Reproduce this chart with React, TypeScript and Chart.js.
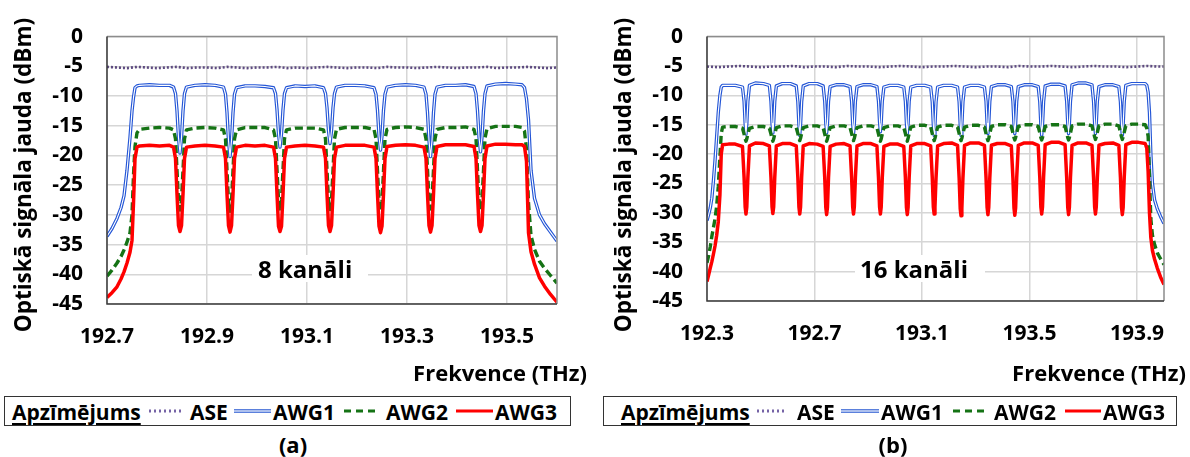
import React, { useEffect, useRef } from "react";
import { Chart, registerables } from "chart.js";

Chart.register(...registerables);

const FONT = "'Open Sans', 'DejaVu Sans', sans-serif";

// ---------- Panel (a): 8 channels ----------
const xTicksA = [192.7, 192.9, 193.1, 193.3, 193.5];

const aseFreqA = [
  192.70, 192.72, 192.74, 192.76, 192.78, 192.80, 192.82, 192.84, 192.86, 192.88,
  192.90, 192.92, 192.94, 192.96, 192.98, 193.00, 193.02, 193.04, 193.06, 193.08,
  193.10, 193.12, 193.14, 193.16, 193.18, 193.20, 193.22, 193.24, 193.26, 193.28,
  193.30, 193.32, 193.34, 193.36, 193.38, 193.40, 193.42, 193.44, 193.46, 193.48,
  193.50, 193.52, 193.54, 193.56, 193.58, 193.60,
];
const aseA = [
  -5.1, -5.2, -5.3, -5.1, -5.2, -5.3, -5.2, -5.1, -5.3, -5.2,
  -5.2, -5.3, -5.1, -5.2, -5.3, -5.2, -5.2, -5.1, -5.3, -5.2,
  -5.3, -5.2, -5.1, -5.2, -5.3, -5.2, -5.2, -5.3, -5.1, -5.2,
  -5.2, -5.3, -5.2, -5.1, -5.2, -5.3, -5.2, -5.2, -5.1, -5.3,
  -5.2, -5.2, -5.1, -5.2, -5.3, -5.2,
];

const freqA = [
  192.700, 192.710, 192.720, 192.728, 192.734, 192.740, 192.746, 192.750, 192.753, 192.756, 192.760, 192.765, 192.785, 192.805, 192.825,
  192.833, 192.837, 192.840, 192.843, 192.846, 192.849, 192.852, 192.855, 192.859, 192.876, 192.896, 192.916,
  192.933, 192.937, 192.940, 192.943, 192.946, 192.949, 192.952, 192.955, 192.959, 192.976, 192.996, 193.016,
  193.033, 193.037, 193.040, 193.043, 193.046, 193.049, 193.052, 193.055, 193.059, 193.076, 193.096, 193.116,
  193.133, 193.137, 193.140, 193.143, 193.146, 193.149, 193.152, 193.155, 193.159, 193.176, 193.196, 193.216,
  193.234, 193.238, 193.241, 193.244, 193.247, 193.250, 193.253, 193.256, 193.260, 193.277, 193.297, 193.317,
  193.334, 193.338, 193.341, 193.344, 193.347, 193.350, 193.353, 193.356, 193.360, 193.377, 193.397, 193.417,
  193.434, 193.438, 193.441, 193.444, 193.447, 193.450, 193.453, 193.456, 193.460, 193.477, 193.497, 193.517,
  193.530, 193.535, 193.539, 193.543, 193.548, 193.555, 193.565, 193.575, 193.587, 193.600,
];
const awg1A = [
  -33.6, -32.3, -30.6, -28.8, -26.8, -22.5, -17.0, -12.5, -10.2, -8.6, -8.3, -8.2, -8.1, -8.2, -8.2,
  -8.5, -9.6, -12.5, -17.0, -19.6, -17.0, -12.5, -9.6, -8.5, -8.2, -8.1, -8.2,
  -8.5, -9.7, -12.8, -17.5, -20.2, -17.5, -12.8, -9.7, -8.6, -8.3, -8.3, -8.4,
  -8.6, -9.6, -12.3, -16.3, -18.6, -16.3, -12.3, -9.6, -8.6, -8.3, -8.4, -8.3,
  -8.6, -9.6, -12.0, -15.8, -18.0, -15.8, -12.0, -9.6, -8.5, -8.2, -8.2, -8.3,
  -8.6, -9.7, -12.4, -16.7, -19.1, -16.7, -12.4, -9.7, -8.5, -8.2, -8.1, -8.2,
  -8.5, -9.7, -12.8, -17.5, -20.2, -17.5, -12.8, -9.7, -8.5, -8.2, -8.2, -8.1,
  -8.4, -9.6, -12.5, -16.9, -19.4, -16.9, -12.5, -9.6, -8.3, -8.0, -7.9, -8.0,
  -8.1, -8.6, -10.5, -14.0, -22.5, -27.2, -30.0, -31.5, -32.9, -34.4,
];
const awg2A = [
  -40.3, -39.3, -38.1, -37.0, -35.9, -34.6, -33.0, -30.0, -23.3, -18.5, -16.2, -15.6, -15.4, -15.3, -15.4,
  -15.7, -17.2, -22.5, -27.5, -29.2, -27.5, -22.5, -17.2, -15.7, -15.4, -15.3, -15.4,
  -15.7, -17.2, -22.5, -27.8, -29.4, -27.8, -22.5, -17.2, -15.7, -15.3, -15.3, -15.3,
  -15.7, -17.2, -22.4, -27.4, -29.0, -27.4, -22.4, -17.2, -15.7, -15.4, -15.4, -15.4,
  -15.7, -17.2, -22.5, -27.5, -29.1, -27.5, -22.5, -17.2, -15.6, -15.3, -15.3, -15.3,
  -15.6, -17.2, -22.6, -27.7, -29.3, -27.7, -22.6, -17.2, -15.6, -15.3, -15.2, -15.3,
  -15.6, -17.2, -22.4, -27.4, -29.0, -27.4, -22.4, -17.2, -15.6, -15.3, -15.3, -15.2,
  -15.6, -17.1, -22.5, -27.6, -29.2, -27.6, -22.5, -17.1, -15.5, -15.1, -15.1, -15.1,
  -15.3, -15.9, -19.0, -28.0, -33.5, -35.8, -37.8, -39.0, -40.2, -41.5,
];
const awg3A = [
  -43.9, -43.1, -42.1, -40.8, -39.6, -38.1, -36.3, -34.3, -28.0, -20.5, -18.6, -18.4, -18.3, -18.4, -18.3,
  -18.6, -20.5, -26.5, -31.8, -32.8, -31.8, -26.5, -20.5, -18.6, -18.4, -18.3, -18.4,
  -18.6, -20.5, -26.5, -31.8, -32.9, -31.8, -26.5, -20.5, -18.6, -18.3, -18.4, -18.3,
  -18.6, -20.5, -26.5, -31.9, -32.8, -31.9, -26.5, -20.5, -18.6, -18.4, -18.3, -18.4,
  -18.6, -20.5, -26.5, -31.8, -32.8, -31.8, -26.5, -20.5, -18.6, -18.3, -18.3, -18.3,
  -18.6, -20.5, -26.5, -31.9, -33.0, -31.9, -26.5, -20.5, -18.5, -18.3, -18.2, -18.3,
  -18.6, -20.5, -26.5, -31.8, -32.9, -31.8, -26.5, -20.5, -18.5, -18.2, -18.2, -18.2,
  -18.5, -20.5, -26.5, -31.8, -32.8, -31.8, -26.5, -20.5, -18.4, -18.1, -18.1, -18.2,
  -18.2, -18.5, -21.0, -33.0, -36.2, -38.3, -40.6, -42.0, -43.4, -44.7,
];

// ---------- Panel (b): 16 channels ----------
const xTicksB = [192.3, 192.7, 193.1, 193.5, 193.9];

const aseFreqB = [
  192.30, 192.34, 192.38, 192.42, 192.46, 192.50, 192.54, 192.58, 192.62, 192.66,
  192.70, 192.74, 192.78, 192.82, 192.86, 192.90, 192.94, 192.98, 193.02, 193.06,
  193.10, 193.14, 193.18, 193.22, 193.26, 193.30, 193.34, 193.38, 193.42, 193.46,
  193.50, 193.54, 193.58, 193.62, 193.66, 193.70, 193.74, 193.78, 193.82, 193.86,
  193.90, 193.94, 193.98, 194.00,
];
const aseB = [
  -5.1, -5.2, -5.1, -5.0, -5.1, -5.2, -5.1, -5.1, -5.0, -5.2,
  -5.1, -5.1, -5.2, -5.0, -5.1, -5.1, -5.2, -5.1, -5.0, -5.1,
  -5.2, -5.1, -5.1, -5.0, -5.1, -5.2, -5.1, -5.1, -5.2, -5.0,
  -5.1, -5.1, -5.0, -5.1, -5.2, -5.1, -5.0, -5.1, -5.1, -5.2,
  -5.1, -5.0, -5.1, -5.1,
];

const freqB = [
  192.300, 192.306, 192.312, 192.318, 192.324, 192.330, 192.336, 192.342, 192.348, 192.353, 192.358, 192.380, 192.405,
  192.432, 192.438, 192.442, 192.445, 192.448, 192.452, 192.458, 192.480, 192.510,
  192.532, 192.538, 192.542, 192.545, 192.548, 192.552, 192.558, 192.580, 192.610,
  192.632, 192.638, 192.642, 192.645, 192.648, 192.652, 192.658, 192.680, 192.710,
  192.732, 192.738, 192.742, 192.745, 192.748, 192.752, 192.758, 192.780, 192.810,
  192.832, 192.838, 192.842, 192.845, 192.848, 192.852, 192.858, 192.880, 192.910,
  192.932, 192.938, 192.942, 192.945, 192.948, 192.952, 192.958, 192.980, 193.010,
  193.032, 193.038, 193.042, 193.045, 193.048, 193.052, 193.058, 193.080, 193.110,
  193.132, 193.138, 193.142, 193.145, 193.148, 193.152, 193.158, 193.180, 193.210,
  193.232, 193.238, 193.242, 193.245, 193.248, 193.252, 193.258, 193.280, 193.310,
  193.332, 193.338, 193.342, 193.345, 193.348, 193.352, 193.358, 193.380, 193.410,
  193.432, 193.438, 193.442, 193.445, 193.448, 193.452, 193.458, 193.480, 193.510,
  193.532, 193.538, 193.542, 193.545, 193.548, 193.552, 193.558, 193.580, 193.610,
  193.632, 193.638, 193.642, 193.645, 193.648, 193.652, 193.658, 193.680, 193.710,
  193.732, 193.738, 193.742, 193.745, 193.748, 193.752, 193.758, 193.780, 193.810,
  193.832, 193.838, 193.842, 193.845, 193.848, 193.852, 193.858, 193.880, 193.905,
  193.930, 193.936, 193.941, 193.946, 193.951, 193.957, 193.965, 193.975, 193.987, 194.000,
];
const awg1B = [
  -31.3, -30.3, -29.2, -27.5, -24.5, -21.0, -17.0, -12.9, -10.0, -8.6, -8.3, -8.3, -8.3,
  -8.6, -11.0, -14.8, -16.6, -14.8, -11.0, -8.3, -7.9, -8.0,
  -8.3, -11.0, -14.8, -16.4, -14.8, -11.0, -8.4, -8.0, -8.0,
  -8.4, -11.1, -15.0, -16.8, -15.0, -11.1, -8.4, -8.0, -8.0,
  -8.4, -11.0, -14.8, -16.4, -14.8, -11.0, -8.5, -8.2, -8.2,
  -8.5, -11.0, -14.8, -16.5, -14.8, -11.0, -8.5, -8.2, -8.2,
  -8.5, -11.0, -14.6, -16.2, -14.6, -11.0, -8.6, -8.3, -8.3,
  -8.6, -11.0, -14.8, -16.5, -14.8, -11.0, -8.6, -8.3, -8.3,
  -8.6, -11.1, -15.0, -16.8, -15.0, -11.1, -8.6, -8.3, -8.3,
  -8.6, -11.1, -15.0, -16.8, -15.0, -11.1, -8.6, -8.3, -8.3,
  -8.6, -11.0, -14.8, -16.5, -14.8, -11.0, -8.5, -8.2, -8.2,
  -8.5, -11.0, -14.8, -16.5, -14.8, -11.0, -8.5, -8.2, -8.2,
  -8.5, -11.1, -15.0, -16.8, -15.0, -11.1, -8.4, -8.1, -8.1,
  -8.4, -11.0, -14.8, -16.5, -14.8, -11.0, -8.2, -7.9, -7.9,
  -8.2, -11.0, -14.8, -16.5, -14.8, -11.0, -8.5, -8.2, -8.2,
  -8.5, -11.1, -15.0, -16.8, -15.0, -11.1, -8.3, -8.0, -8.0,
  -8.0, -8.3, -9.5, -13.0, -20.0, -25.0, -27.8, -29.3, -30.6, -31.8,
];
const awg2B = [
  -38.5, -37.3, -35.8, -34.0, -32.5, -31.0, -28.8, -25.5, -20.5, -16.5, -15.4, -15.3, -15.3,
  -15.6, -16.6, -17.4, -17.8, -17.4, -16.6, -15.6, -15.3, -15.3,
  -15.6, -16.6, -17.4, -17.8, -17.4, -16.6, -15.5, -15.2, -15.2,
  -15.5, -16.5, -17.3, -17.7, -17.3, -16.5, -15.5, -15.2, -15.2,
  -15.5, -16.6, -17.4, -17.8, -17.4, -16.6, -15.5, -15.2, -15.2,
  -15.5, -16.5, -17.3, -17.7, -17.3, -16.5, -15.5, -15.2, -15.2,
  -15.5, -16.6, -17.4, -17.8, -17.4, -16.6, -15.5, -15.2, -15.2,
  -15.5, -16.5, -17.3, -17.8, -17.3, -16.5, -15.4, -15.1, -15.1,
  -15.4, -16.5, -17.3, -17.7, -17.3, -16.5, -15.4, -15.1, -15.1,
  -15.4, -16.5, -17.3, -17.7, -17.3, -16.5, -15.4, -15.1, -15.1,
  -15.4, -16.5, -17.3, -17.7, -17.3, -16.5, -15.3, -15.0, -15.0,
  -15.3, -16.4, -17.2, -17.6, -17.2, -16.4, -15.3, -15.0, -15.0,
  -15.3, -16.4, -17.2, -17.6, -17.2, -16.4, -15.3, -15.0, -15.0,
  -15.3, -16.4, -17.2, -17.6, -17.2, -16.4, -15.2, -14.9, -14.9,
  -15.2, -16.3, -17.1, -17.5, -17.1, -16.3, -15.2, -14.9, -14.9,
  -15.2, -16.3, -17.1, -17.5, -17.1, -16.3, -15.2, -14.9, -14.9,
  -15.0, -15.6, -17.0, -24.0, -31.0, -33.8, -35.4, -36.8, -37.8, -38.8,
];
const awg3B = [
  -41.7, -40.6, -39.4, -38.3, -37.0, -35.6, -33.8, -31.5, -27.0, -20.0, -18.4, -18.3, -18.3,
  -18.7, -24.0, -29.0, -30.2, -29.0, -24.0, -18.6, -18.1, -18.2,
  -18.6, -24.0, -29.0, -30.1, -29.0, -24.0, -18.6, -18.2, -18.2,
  -18.6, -24.0, -29.0, -30.2, -29.0, -24.0, -18.6, -18.2, -18.3,
  -18.7, -24.0, -29.1, -30.3, -29.1, -24.0, -18.7, -18.3, -18.2,
  -18.6, -24.0, -29.0, -30.2, -29.0, -24.0, -18.6, -18.2, -18.2,
  -18.6, -24.0, -29.0, -30.2, -29.0, -24.0, -18.7, -18.3, -18.3,
  -18.7, -24.0, -29.1, -30.3, -29.1, -24.0, -18.6, -18.2, -18.2,
  -18.6, -24.0, -29.0, -30.2, -29.0, -24.0, -18.6, -18.2, -18.1,
  -18.5, -24.1, -29.3, -30.5, -29.3, -24.1, -18.5, -18.1, -18.1,
  -18.5, -24.0, -29.1, -30.3, -29.1, -24.0, -18.5, -18.2, -18.2,
  -18.6, -24.1, -29.2, -30.4, -29.2, -24.1, -18.5, -18.1, -18.1,
  -18.5, -24.0, -29.0, -30.2, -29.0, -24.0, -18.4, -18.0, -18.0,
  -18.4, -24.0, -29.1, -30.3, -29.1, -24.0, -18.5, -18.1, -18.1,
  -18.5, -24.0, -29.0, -30.2, -29.0, -24.0, -18.5, -18.2, -18.1,
  -18.5, -24.0, -29.1, -30.3, -29.1, -24.0, -18.4, -18.0, -18.0,
  -18.2, -19.0, -23.0, -30.0, -34.2, -36.4, -37.9, -39.4, -40.9, -42.2,
];

// ---------- Chart construction ----------
type PanelCfg = {
  freq: number[];
  awg1: number[];
  awg2: number[];
  awg3: number[];
  aseFreq: number[];
  ase: number[];
  xMin: number;
  xMax: number;
  xTicks: number[];
  padRight: number;
  xAxisHeight: number;
};

const GRID = "#d6d6d6";

const framePlugin = {
  id: "frame",
  afterDatasetsDraw(chart: any) {
    const { ctx, chartArea: a } = chart;
    ctx.save();
    ctx.lineWidth = 1.5;
    ctx.strokeStyle = "#8c8c8c";
    ctx.beginPath();
    ctx.moveTo(a.left, a.top);
    ctx.lineTo(a.right, a.top);
    ctx.lineTo(a.right, a.bottom);
    ctx.stroke();
    ctx.strokeStyle = "#3a3a3a";
    ctx.beginPath();
    ctx.moveTo(a.left, a.top);
    ctx.lineTo(a.left, a.bottom);
    ctx.lineTo(a.right, a.bottom);
    ctx.stroke();
    ctx.restore();
  },
};

function pts(xs: number[], ys: number[]) {
  return xs.map((x, i) => ({ x, y: ys[i] }));
}

function makeConfig(p: PanelCfg): any {
  const tickFont = { family: FONT, size: 21, weight: "bold" as const };
  const common = { pointRadius: 0, borderJoinStyle: "round" as const, fill: false, tension: 0 };
  return {
    type: "line",
    data: {
      datasets: [
        { label: "AWG3", data: pts(p.freq, p.awg3), borderColor: "#ff0000", borderWidth: 3.5, order: 0, ...common },
        { label: "AWG2", data: pts(p.freq, p.awg2), borderColor: "#157315", borderWidth: 3.4, borderDash: [8, 4], order: 1, ...common },
        { label: "AWG1 (inner)", data: pts(p.freq, p.awg1), borderColor: "#ffffff", borderWidth: 1.1, order: 2, ...common },
        { label: "AWG1", data: pts(p.freq, p.awg1), borderColor: "#2456d6", borderWidth: 3.4, order: 3, ...common },
        { label: "ASE", data: pts(p.aseFreq, p.ase), borderColor: "#5d4a80", borderWidth: 2.6, borderDash: [2, 2], order: 4, ...common },
      ],
    },
    options: {
      animation: false,
      responsive: false,
      devicePixelRatio: 1,
      layout: { padding: { top: 19, right: p.padRight, left: 0, bottom: 0 } },
      plugins: { legend: { display: false }, tooltip: { enabled: false } },
      scales: {
        x: {
          type: "linear",
          min: p.xMin,
          max: p.xMax,
          afterBuildTicks: (s: any) => {
            s.ticks = p.xTicks.map((v) => ({ value: v }));
          },
          afterFit: (s: any) => {
            s.height = p.xAxisHeight;
          },
          ticks: {
            font: tickFont,
            color: "#000",
            padding: 20,
            maxRotation: 0,
            autoSkip: false,
            callback: (v: any) => Number(v).toFixed(1),
          },
          grid: { color: GRID, lineWidth: 1.5, drawTicks: false },
          border: { display: false },
        },
        y: {
          min: -45,
          max: 0,
          afterFit: (s: any) => {
            s.width = 107;
          },
          ticks: { stepSize: 5, font: tickFont, color: "#000", padding: 24, callback: (v: any) => String(v) },
          grid: { color: GRID, lineWidth: 1.5, drawTicks: false },
          border: { display: false },
        },
      },
    },
    plugins: [framePlugin],
  };
}

const panelA: PanelCfg = {
  freq: freqA, awg1: awg1A, awg2: awg2A, awg3: awg3A, aseFreq: aseFreqA, ase: aseA,
  xMin: 192.7, xMax: 193.6, xTicks: xTicksA, padRight: 43, xAxisHeight: 86,
};
const panelB: PanelCfg = {
  freq: freqB, awg1: awg1B, awg2: awg2B, awg3: awg3B, aseFreq: aseFreqB, ase: aseB,
  xMin: 192.3, xMax: 194.0, xTicks: xTicksB, padRight: 26, xAxisHeight: 89,
};

function ChartCanvas({ cfg, left, width, height }: { cfg: PanelCfg; left: number; width: number; height: number }) {
  const ref = useRef<HTMLCanvasElement>(null);
  useEffect(() => {
    const chart = new Chart(ref.current as HTMLCanvasElement, makeConfig(cfg));
    return () => chart.destroy();
  }, [cfg]);
  return (
    <canvas
      ref={ref}
      width={width}
      height={height}
      style={{ position: "absolute", left, top: 0, width, height }}
    />
  );
}

const bold: React.CSSProperties = { fontFamily: FONT, fontWeight: 700, color: "#000", whiteSpace: "nowrap" };

function YTitle({ cx, cy }: { cx: number; cy: number }) {
  return (
    <div
      style={{
        ...bold,
        position: "absolute",
        left: cx - 180,
        top: cy - 16,
        width: 360,
        height: 32,
        lineHeight: "32px",
        fontSize: 22.5,
        textAlign: "center",
        transform: "rotate(-90deg)",
      }}
    >
      Optiskā signāla jauda (dBm)
    </div>
  );
}

function XTitle({ right }: { right: number }) {
  return (
    <div
      style={{
        ...bold,
        position: "absolute",
        left: right - 220,
        top: 357,
        width: 220,
        height: 30,
        lineHeight: "30px",
        fontSize: 22,
        textAlign: "right",
      }}
    >
      Frekvence (THz)
    </div>
  );
}

function Note({ left, width, pad, text }: { left: number; width: number; pad: number; text: string }) {
  return (
    <div
      style={{
        ...bold,
        position: "absolute",
        left,
        top: 255,
        width,
        height: 27,
        lineHeight: "27px",
        fontSize: 24,
        background: "#fff",
        paddingLeft: pad,
        boxSizing: "border-box",
      }}
    >
      {text}
    </div>
  );
}

type LegendPos = {
  boxLeft: number;
  boxWidth: number;
  title: number;
  ase: [number, number, number];
  awg1: [number, number, number];
  awg2: [number, number, number];
  awg3: [number, number, number];
};

function Legend({ p }: { p: LegendPos }) {
  const top = 396;
  const h = 30;
  const cy = 15;
  const txt = (x: number, s: string, underline = false) => (
    <span
      style={{
        ...bold,
        position: "absolute",
        left: x - p.boxLeft,
        top: 0,
        height: h,
        lineHeight: h + "px",
        fontSize: 21,
        textDecoration: underline ? "underline" : "none",
        textDecorationThickness: underline ? "2px" : undefined,
        textUnderlineOffset: underline ? "3px" : undefined,
      }}
    >
      {s}
    </span>
  );
  const L = (x: number) => x - p.boxLeft;
  return (
    <div
      style={{
        position: "absolute",
        left: p.boxLeft,
        top,
        width: p.boxWidth,
        height: h,
        border: "1px solid #333",
        boxSizing: "border-box",
        background: "#fff",
      }}
    >
      <svg width={p.boxWidth} height={h} style={{ position: "absolute", left: -1, top: -1 }}>
        <line x1={L(p.ase[0])} x2={L(p.ase[1])} y1={cy} y2={cy} stroke="#7563a6" strokeWidth={3} strokeDasharray="2 3" />
        <line x1={L(p.awg1[0])} x2={L(p.awg1[1])} y1={cy} y2={cy} stroke="#5b80dc" strokeWidth={4} />
        <line x1={L(p.awg1[0])} x2={L(p.awg1[1])} y1={cy} y2={cy} stroke="#ffffff" strokeWidth={1.2} />
        <line x1={L(p.awg2[0])} x2={L(p.awg2[1])} y1={cy} y2={cy} stroke="#157315" strokeWidth={3} strokeDasharray="7 5" />
        <line x1={L(p.awg3[0])} x2={L(p.awg3[1])} y1={cy} y2={cy} stroke="#ff0000" strokeWidth={3} />
      </svg>
      {txt(p.title, "Apzīmējums", true)}
      {txt(p.ase[2], "ASE")}
      {txt(p.awg1[2], "AWG1")}
      {txt(p.awg2[2], "AWG2")}
      {txt(p.awg3[2], "AWG3")}
    </div>
  );
}

const legendA: LegendPos = {
  boxLeft: 4,
  boxWidth: 567,
  title: 11,
  ase: [149, 183, 189],
  awg1: [234, 271, 272],
  awg2: [344, 377, 385],
  awg3: [456, 493, 494],
};
const legendB: LegendPos = {
  boxLeft: 603,
  boxWidth: 574,
  title: 620,
  ase: [757, 787, 796],
  awg1: [841, 879, 880],
  awg2: [953, 985, 993],
  awg3: [1065, 1101, 1102],
};

function PanelLabel({ cx, text }: { cx: number; text: string }) {
  return (
    <div
      style={{
        ...bold,
        position: "absolute",
        left: cx - 50,
        top: 430,
        width: 100,
        height: 28,
        lineHeight: "28px",
        fontSize: 22,
        textAlign: "center",
      }}
    >
      {text}
    </div>
  );
}

export default function App() {
  return (
    <div
      style={{
        position: "absolute",
        left: 0,
        top: 0,
        width: 1190,
        height: 457,
        background: "#fff",
        overflow: "hidden",
      }}
    >
      <ChartCanvas cfg={panelA} left={0} width={600} height={390} />
      <ChartCanvas cfg={panelB} left={600} width={590} height={390} />
      <YTitle cx={23} cy={175} />
      <YTitle cx={623} cy={175} />
      <XTitle right={587} />
      <XTitle right={1186} />
      <Note left={252} width={116} pad={6} text="8 kanāli" />
      <Note left={855} width={130} pad={5} text="16 kanāli" />
      <Legend p={legendA} />
      <Legend p={legendB} />
      <PanelLabel cx={293} text="(a)" />
      <PanelLabel cx={893} text="(b)" />
    </div>
  );
}
